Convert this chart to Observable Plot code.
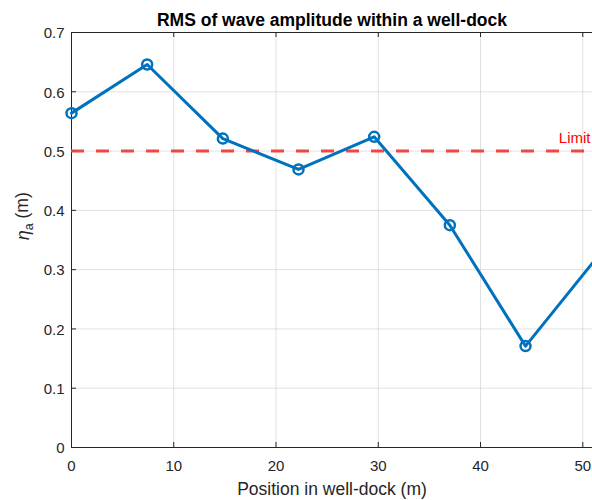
<!DOCTYPE html>
<html>
<head>
<meta charset="utf-8">
<script src="https://cdn.jsdelivr.net/npm/d3@7"></script>
<script src="https://cdn.jsdelivr.net/npm/@observablehq/plot@0.6"></script>
<style>
  html, body { margin: 0; padding: 0; background: #fff; }
  #chart { width: 592px; height: 500px; }
</style>
</head>
<body>
<div id="chart"></div>
<script>
// Measurement positions along the well-dock (m) and RMS wave amplitude (m)
const positions = [0, 7.4, 14.8, 22.2, 29.6, 37.0, 44.4, 51.6];
const rmsAmplitude = [0.564, 0.646, 0.521, 0.469, 0.524, 0.375, 0.171, 0.325];
const limitValue = [0.5];
const limitLabel = ["Limit"];
const xTicks = [0, 10, 20, 30, 40, 50];
const yTicks = [0, 0.1, 0.2, 0.3, 0.4, 0.5, 0.6, 0.7];
const titleText = "RMS of wave amplitude within a well-dock";
const xLabel = "Position in well-dock (m)";

const data = positions.map((p, i) => ({position: p, amplitude: rmsAmplitude[i]}));

const W = 592, H = 500;
const mL = 71, mR = 0, mT = 32, mB = 53;
const innerW = W - mL - mR, innerH = H - mT - mB;
const tick = 5;
const axisColor = "#262626";
const blue = "#0072BD";
const red = "#F03C3C";

const plot = Plot.plot({
  width: W,
  height: H,
  marginLeft: mL,
  marginRight: mR,
  marginTop: mT,
  marginBottom: mB,
  style: {fontFamily: "'Liberation Sans', Arial, Helvetica, sans-serif", background: "#fff", overflow: "visible"},
  x: {domain: [0, 50.95], axis: null},
  y: {domain: [0, 0.7], axis: null},
  marks: [
    // grid
    Plot.gridX(xTicks, {stroke: "#000", strokeOpacity: 0.12, strokeWidth: 1}),
    Plot.gridY(yTicks, {stroke: "#000", strokeOpacity: 0.12, strokeWidth: 1}),
    // axes box (left, bottom, top)
    Plot.ruleX([0], {stroke: axisColor, strokeWidth: 1}),
    Plot.ruleY([0, 0.7], {stroke: axisColor, strokeWidth: 1}),
    // inward tick marks
    Plot.ruleX(xTicks, {stroke: axisColor, insetTop: innerH - tick}),
    Plot.ruleX(xTicks, {stroke: axisColor, insetBottom: innerH - tick}),
    Plot.ruleY(yTicks, {stroke: axisColor, insetRight: innerW - tick}),
    // tick labels
    Plot.axisX(xTicks, {anchor: "bottom", tickSize: 0, tickPadding: 13, fontSize: 15, color: axisColor, label: null, tickFormat: String}),
    Plot.axisY(yTicks, {anchor: "left", tickSize: 0, tickPadding: 7, fontSize: 15, color: axisColor, label: null, tickFormat: String, dy: 1}),
    // limit
    Plot.ruleY(limitValue, {stroke: red, strokeWidth: 3, strokeDasharray: "13,12", strokeOpacity: 0.95}),
    Plot.text(limitLabel, {frameAnchor: "right", y: () => limitValue[0], dy: -13, dx: -2, textAnchor: "end", fill: "#ff0000", fontSize: 15}),
    // data
    Plot.line(data, {x: "position", y: "amplitude", stroke: blue, strokeWidth: 3, strokeLinejoin: "round"}),
    Plot.dot(data, {x: "position", y: "amplitude", r: 5, stroke: blue, strokeWidth: 2.5, fill: "none"}),
    // titles
    Plot.text([titleText], {frameAnchor: "top", dy: -19, fontSize: 17.5, fontWeight: "bold", fill: "#000"}),
    Plot.text([xLabel], {frameAnchor: "bottom", dy: 47, fontSize: 17.5, fill: axisColor}),
    Plot.text(["ylabel"], {frameAnchor: "left", dx: -48, rotate: -90, fontSize: 17.5, fill: axisColor, className: "ylab"})
  ]
});

// y label with subscript: η_a (m)
d3.select(plot).selectAll(".ylab text").each(function () {
  const t = d3.select(this);
  t.text(null);
  t.append("tspan").text("η").attr("font-style", "italic");
  t.append("tspan").text("a").attr("font-size", 12.5).attr("dy", "0.3em");
  t.append("tspan").text(" (m)").attr("dy", "-0.3em");
});

document.getElementById("chart").appendChild(plot);
</script>
</body>
</html>
